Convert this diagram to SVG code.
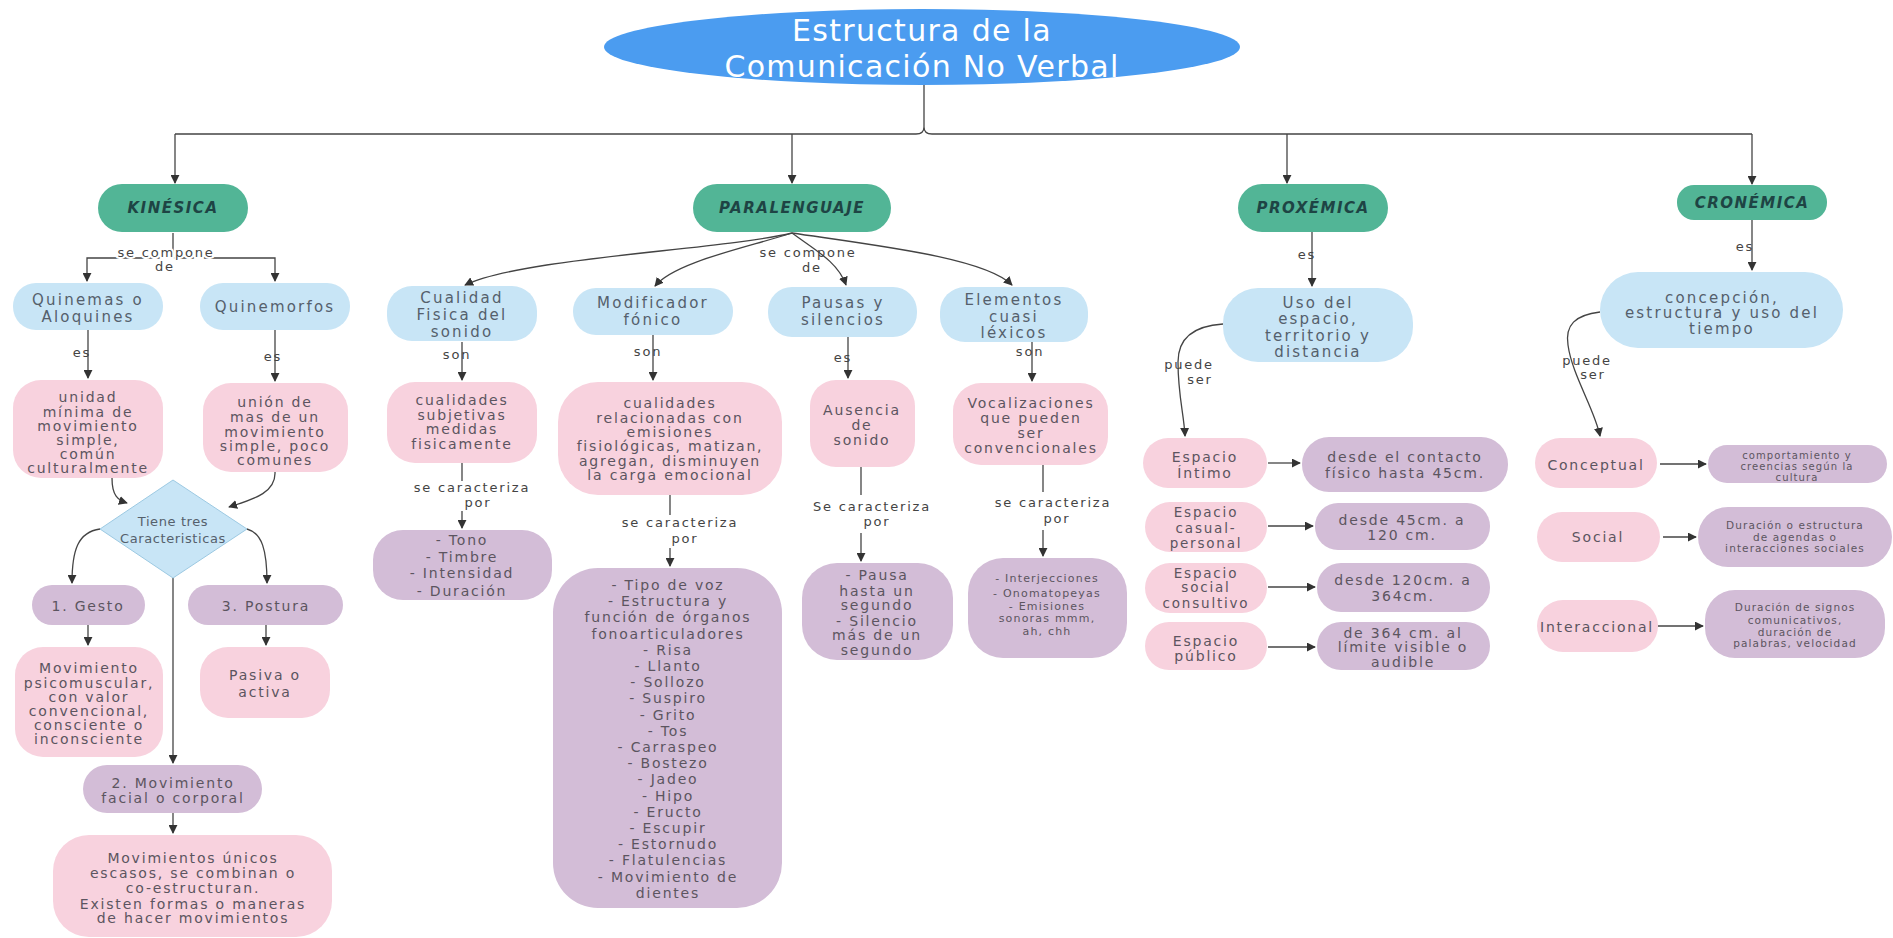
<svg xmlns="http://www.w3.org/2000/svg" width="1893" height="938" viewBox="0 0 1893 938">
<style>
.bg{fill:#ffffff}
.hdr rect{fill:#52b596}
.hdr text{font-family:"DejaVu Sans",sans-serif;font-style:italic;font-weight:bold;font-size:15px;letter-spacing:1.5px;fill:#1e4444;text-anchor:middle}
.b{fill:#c8e5f6}
.p{fill:#f8d2de}
.u{fill:#d3bdd7}
.t{font-family:"DejaVu Sans",sans-serif;font-size:14px;letter-spacing:1.8px;fill:#5c5560;text-anchor:middle}
.tb{font-family:"DejaVu Sans",sans-serif;font-size:15px;letter-spacing:2.2px;fill:#55606c;text-anchor:middle}
.s{font-size:11px;letter-spacing:1.2px}
.xs{font-size:10.5px;letter-spacing:1.1px}
.lbl{font-family:"DejaVu Sans",sans-serif;font-size:13px;letter-spacing:1.8px;fill:#444;text-anchor:middle}
.halo{stroke:#fff;stroke-width:4px;paint-order:stroke}
.c{fill:none;stroke:#444;stroke-width:1.3}
.a{marker-end:url(#arr)}
.title{font-family:"DejaVu Sans",sans-serif;font-size:30px;letter-spacing:1.3px;fill:#ffffff;text-anchor:middle}
</style>
<defs>
<marker id="arr" viewBox="0 0 10 10" refX="9" refY="5" markerWidth="9" markerHeight="9" markerUnits="userSpaceOnUse" orient="auto">
<path d="M0,0 L10,5 L0,10 z" fill="#333"/>
</marker>
</defs>
<rect class="bg" x="0" y="0" width="1893" height="938"/>

<g id="connectors">
<path class="c" d="M924 85 V127 Q924 134 932 134 H1752 M924 127 Q924 134 916 134 H175"/>
<path class="c a" d="M175 134 V183"/>
<path class="c a" d="M792 134 V183"/>
<path class="c a" d="M1287 134 V183"/>
<path class="c a" d="M1752 134 V184"/>
<!-- Kinesica -->
<path class="c a" d="M173 233 V258 H87 V281"/>
<path class="c a" d="M173 258 H275 V281"/>
<path class="c a" d="M88 330 V378"/>
<path class="c a" d="M275 330 V381"/>
<path class="c a" d="M112 478 C112 496 118 500 127 503"/>
<path class="c a" d="M275 472 C276 494 250 500 229 507"/>
<path class="c a" d="M100 529 C78 532 72 550 72 583"/>
<path class="c a" d="M247 529 C262 533 267 550 267 583"/>
<path class="c a" d="M173 578 V763"/>
<path class="c a" d="M88 625 V645"/>
<path class="c a" d="M266 625 V645"/>
<path class="c a" d="M173 813 V833"/>
<!-- Paralenguaje -->
<path class="c a" d="M792 233 C720 250 520 258 465 285"/>
<path class="c a" d="M792 233 C745 248 675 262 655 286"/>
<path class="c a" d="M792 233 C815 250 838 262 846 285"/>
<path class="c a" d="M792 233 C880 246 985 258 1012 285"/>
<path class="c a" d="M462 342 V380"/>
<path class="c" d="M462 463 V481"/>
<path class="c a" d="M462 511 V528"/>
<path class="c a" d="M653 335 V380"/>
<path class="c" d="M670 495 V515"/>
<path class="c a" d="M670 548 V566"/>
<path class="c a" d="M848 337 V378"/>
<path class="c" d="M861 467 V495"/>
<path class="c a" d="M861 533 V561"/>
<path class="c a" d="M1032 342 V381"/>
<path class="c" d="M1043 465 V492"/>
<path class="c a" d="M1043 530 V556"/>
<!-- Proxemica -->
<path class="c a" d="M1312 232 V286"/>
<path class="c a" d="M1223 324 C1192 326 1178 340 1178 362 C1178 395 1184 415 1185 436"/>
<path class="c a" d="M1268 463 H1300"/>
<path class="c a" d="M1268 526 H1313"/>
<path class="c a" d="M1268 587 H1315"/>
<path class="c a" d="M1268 647 H1315"/>
<!-- Cronemica -->
<path class="c a" d="M1752 220 V270"/>
<path class="c a" d="M1600 312 C1575 315 1565 325 1568 345 C1572 375 1595 410 1600 436"/>
<path class="c a" d="M1660 464 H1706"/>
<path class="c a" d="M1663 537 H1696"/>
<path class="c a" d="M1658 626 H1703"/>
<!-- labels -->
<text class="lbl halo" x="166" y="257">se compone</text>
<text class="lbl" x="165" y="271">de</text>
<text class="lbl" x="82" y="357">es</text>
<text class="lbl" x="273" y="361">es</text>
<text class="lbl" x="808" y="257">se compone</text>
<text class="lbl" x="812" y="272">de</text>
<text class="lbl" x="457" y="359">son</text>
<text class="lbl" x="472" y="492">se caracteriza</text>
<text class="lbl" x="478" y="507">por</text>
<text class="lbl" x="648" y="356">son</text>
<text class="lbl" x="680" y="527">se caracteriza</text>
<text class="lbl" x="685" y="543">por</text>
<text class="lbl" x="843" y="362">es</text>
<text class="lbl" x="872" y="511">Se caracteriza</text>
<text class="lbl" x="877" y="526">por</text>
<text class="lbl" x="1030" y="356">son</text>
<text class="lbl" x="1053" y="507">se caracteriza</text>
<text class="lbl" x="1057" y="523">por</text>
<text class="lbl" x="1307" y="259">es</text>
<text class="lbl" x="1189" y="369">puede</text>
<text class="lbl" x="1200" y="384">ser</text>
<text class="lbl" x="1745" y="251">es</text>
<text class="lbl" x="1587" y="365">puede</text>
<text class="lbl" x="1593" y="379">ser</text>
</g>

<g id="title">
<ellipse cx="922" cy="47" rx="318" ry="38" fill="#4b9cf0"/>
<text class="title" x="922" y="41">Estructura de la</text>
<text class="title" x="922" y="77">Comunicación No Verbal</text>
</g>

<!-- KINESICA -->
<g id="kinesica" class="hdr"><rect x="98" y="184" width="150" height="48" rx="24"/><text x="173" y="213">KINÉSICA</text></g>
<g id="quinemas"><rect class="b" x="13" y="283" width="150" height="47" rx="23"/><text class="tb"><tspan x="88" y="305">Quinemas o</tspan><tspan x="88" y="322">Aloquines</tspan></text></g>
<g id="quinemorfos"><rect class="b" x="200" y="283" width="150" height="47" rx="23"/><text class="tb" x="275" y="312">Quinemorfos</text></g>
<g id="unidad"><rect class="p" x="13" y="380" width="150" height="98" rx="28"/><text class="t"><tspan x="88" y="402">unidad</tspan><tspan x="88" y="416.5">mínima de</tspan><tspan x="88" y="431">movimiento</tspan><tspan x="88" y="445">simple,</tspan><tspan x="88" y="459">común</tspan><tspan x="88" y="473">culturalmente</tspan></text></g>
<g id="union"><rect class="p" x="203" y="383" width="145" height="89" rx="28"/><text class="t"><tspan x="275" y="407">unión de</tspan><tspan x="275" y="422">mas de un</tspan><tspan x="275" y="437">movimiento</tspan><tspan x="275" y="451">simple, poco</tspan><tspan x="275" y="465">comunes</tspan></text></g>
<g id="caracteristicas"><polygon points="173,480 247,529 173,578 100,529" fill="#c8e5f6" stroke="#9cc9e2" stroke-width="1"/><text class="tb" style="font-size:13px;letter-spacing:0.6px"><tspan x="173" y="526">Tiene tres</tspan><tspan x="173" y="543">Caracteristicas</tspan></text></g>
<g id="gesto"><rect class="u" x="32" y="585" width="113" height="40" rx="20"/><text class="t" x="88" y="611">1. Gesto</text></g>
<g id="postura"><rect class="u" x="188" y="585" width="155" height="40" rx="20"/><text class="t" x="266" y="611">3. Postura</text></g>
<g id="psicomuscular"><rect class="p" x="15" y="647" width="148" height="110" rx="28"/><text class="t"><tspan x="89" y="673">Movimiento</tspan><tspan x="89" y="688">psicomuscular,</tspan><tspan x="89" y="702">con valor</tspan><tspan x="89" y="716">convencional,</tspan><tspan x="89" y="730">consciente o</tspan><tspan x="89" y="744">inconsciente</tspan></text></g>
<g id="pasiva"><rect class="p" x="200" y="647" width="130" height="71" rx="28"/><text class="t"><tspan x="265" y="680">Pasiva o</tspan><tspan x="265" y="697">activa</tspan></text></g>
<g id="movimiento"><rect class="u" x="83" y="765" width="179" height="48" rx="24"/><text class="t"><tspan x="173" y="788">2. Movimiento</tspan><tspan x="173" y="803">facial o corporal</tspan></text></g>
<g id="unicos"><rect class="p" x="53" y="835" width="279" height="102" rx="36"/><text class="t"><tspan x="193" y="863">Movimientos únicos</tspan><tspan x="193" y="878">escasos, se combinan o</tspan><tspan x="193" y="893">co-estructuran.</tspan><tspan x="193" y="909">Existen formas o maneras</tspan><tspan x="193" y="923">de hacer movimientos</tspan></text></g>

<!-- PARALENGUAJE -->
<g id="paralenguaje" class="hdr"><rect x="693" y="184" width="198" height="48" rx="24"/><text x="792" y="213">PARALENGUAJE</text></g>
<g id="cualidad"><rect class="b" x="387" y="286" width="150" height="55" rx="25"/><text class="tb"><tspan x="462" y="303">Cualidad</tspan><tspan x="462" y="320">Fisica del</tspan><tspan x="462" y="337">sonido</tspan></text></g>
<g id="modificador"><rect class="b" x="573" y="288" width="160" height="47" rx="23"/><text class="tb"><tspan x="653" y="308">Modificador</tspan><tspan x="653" y="325">fónico</tspan></text></g>
<g id="pausas"><rect class="b" x="768" y="287" width="149" height="50" rx="24"/><text class="tb"><tspan x="843" y="308">Pausas y</tspan><tspan x="843" y="325">silencios</tspan></text></g>
<g id="elementos"><rect class="b" x="940" y="287" width="148" height="55" rx="25"/><text class="tb"><tspan x="1014" y="305">Elementos</tspan><tspan x="1014" y="322">cuasi</tspan><tspan x="1014" y="338">léxicos</tspan></text></g>
<g id="subjetivas"><rect class="p" x="387" y="382" width="150" height="81" rx="28"/><text class="t"><tspan x="462" y="405">cualidades</tspan><tspan x="462" y="420">subjetivas</tspan><tspan x="462" y="434">medidas</tspan><tspan x="462" y="449">fisicamente</tspan></text></g>
<g id="relacionadas"><rect class="p" x="558" y="382" width="224" height="113" rx="40"/><text class="t"><tspan x="670" y="408">cualidades</tspan><tspan x="670" y="423">relacionadas con</tspan><tspan x="670" y="437">emisiones</tspan><tspan x="670" y="451">fisiológicas, matizan,</tspan><tspan x="670" y="466">agregan, disminuyen</tspan><tspan x="670" y="480">la carga emocional</tspan></text></g>
<g id="ausencia"><rect class="p" x="810" y="380" width="105" height="87" rx="26"/><text class="t"><tspan x="862" y="415">Ausencia</tspan><tspan x="862" y="430">de</tspan><tspan x="862" y="445">sonido</tspan></text></g>
<g id="vocalizaciones"><rect class="p" x="953" y="383" width="155" height="82" rx="28"/><text class="t"><tspan x="1031" y="408">Vocalizaciones</tspan><tspan x="1031" y="423">que pueden</tspan><tspan x="1031" y="438">ser</tspan><tspan x="1031" y="453">convencionales</tspan></text></g>
<g id="tono"><rect class="u" x="373" y="530" width="179" height="70" rx="30"/><text class="t"><tspan x="462" y="545">- Tono</tspan><tspan x="462" y="562">- Timbre</tspan><tspan x="462" y="578">- Intensidad</tspan><tspan x="462" y="596">- Duración</tspan></text></g>
<g id="lista"><rect class="u" x="553" y="568" width="229" height="340" rx="45"/><text class="t"><tspan x="668" y="590">- Tipo de voz</tspan><tspan x="668" y="606.2">- Estructura y</tspan><tspan x="668" y="622.4">función de órganos</tspan><tspan x="668" y="638.6">fonoarticuladores</tspan><tspan x="668" y="654.8">- Risa</tspan><tspan x="668" y="671">- Llanto</tspan><tspan x="668" y="687.2">- Sollozo</tspan><tspan x="668" y="703.4">- Suspiro</tspan><tspan x="668" y="719.6">- Grito</tspan><tspan x="668" y="735.8">- Tos</tspan><tspan x="668" y="752">- Carraspeo</tspan><tspan x="668" y="768.2">- Bostezo</tspan><tspan x="668" y="784.4">- Jadeo</tspan><tspan x="668" y="800.6">- Hipo</tspan><tspan x="668" y="816.8">- Eructo</tspan><tspan x="668" y="833">- Escupir</tspan><tspan x="668" y="849.2">- Estornudo</tspan><tspan x="668" y="865.4">- Flatulencias</tspan><tspan x="668" y="881.6">- Movimiento de</tspan><tspan x="668" y="897.8">dientes</tspan></text></g>
<g id="pausa"><rect class="u" x="802" y="563" width="151" height="97" rx="35"/><text class="t"><tspan x="877" y="580">- Pausa</tspan><tspan x="877" y="596">hasta un</tspan><tspan x="877" y="610">segundo</tspan><tspan x="877" y="626">- Silencio</tspan><tspan x="877" y="640">más de un</tspan><tspan x="877" y="655">segundo</tspan></text></g>
<g id="interjecciones"><rect class="u" x="968" y="558" width="159" height="100" rx="35"/><text class="t s"><tspan x="1047" y="582">- Interjecciones</tspan><tspan x="1047" y="597">- Onomatopeyas</tspan><tspan x="1047" y="610">- Emisiones</tspan><tspan x="1047" y="622">sonoras mmm,</tspan><tspan x="1047" y="635">ah, chh</tspan></text></g>

<!-- PROXEMICA -->
<g id="proxemica" class="hdr"><rect x="1238" y="184" width="150" height="48" rx="24"/><text x="1313" y="213">PROXÉMICA</text></g>
<g id="uso"><rect class="b" x="1223" y="288" width="190" height="74" rx="35"/><text class="tb"><tspan x="1318" y="308">Uso del</tspan><tspan x="1318" y="324">espacio,</tspan><tspan x="1318" y="341">territorio y</tspan><tspan x="1318" y="357">distancia</tspan></text></g>
<g id="intimo"><rect class="p" x="1143" y="438" width="124" height="50" rx="25"/><text class="t"><tspan x="1205" y="462">Espacio</tspan><tspan x="1205" y="478">Íntimo</tspan></text></g>
<g id="d-intimo"><rect class="u" x="1302" y="437" width="206" height="55" rx="27"/><text class="t"><tspan x="1405" y="462">desde el contacto</tspan><tspan x="1405" y="478">físico hasta 45cm.</tspan></text></g>
<g id="casual"><rect class="p" x="1145" y="502" width="122" height="50" rx="25"/><text class="t" style="font-size:13.5px"><tspan x="1206" y="517">Espacio</tspan><tspan x="1206" y="533">casual-</tspan><tspan x="1206" y="548">personal</tspan></text></g>
<g id="d-casual"><rect class="u" x="1315" y="503" width="175" height="47" rx="23"/><text class="t"><tspan x="1402" y="525">desde 45cm. a</tspan><tspan x="1402" y="540">120 cm.</tspan></text></g>
<g id="social-p"><rect class="p" x="1145" y="563" width="122" height="50" rx="25"/><text class="t" style="font-size:13.5px"><tspan x="1206" y="578">Espacio</tspan><tspan x="1206" y="592">social</tspan><tspan x="1206" y="608">consultivo</tspan></text></g>
<g id="d-social"><rect class="u" x="1317" y="563" width="173" height="49" rx="24"/><text class="t"><tspan x="1403" y="585">desde 120cm. a</tspan><tspan x="1403" y="601">364cm.</tspan></text></g>
<g id="publico"><rect class="p" x="1145" y="622" width="122" height="48" rx="24"/><text class="t"><tspan x="1206" y="646">Espacio</tspan><tspan x="1206" y="661">público</tspan></text></g>
<g id="d-publico"><rect class="u" x="1317" y="622" width="173" height="48" rx="24"/><text class="t"><tspan x="1403" y="638">de 364 cm. al</tspan><tspan x="1403" y="652">límite visible o</tspan><tspan x="1403" y="667">audible</tspan></text></g>

<!-- CRONEMICA -->
<g id="cronemica" class="hdr"><rect x="1677" y="185" width="150" height="35" rx="17"/><text x="1752" y="208">CRONÉMICA</text></g>
<g id="concepcion"><rect class="b" x="1600" y="272" width="243" height="76" rx="38"/><text class="tb"><tspan x="1722" y="303">concepción,</tspan><tspan x="1722" y="318">estructura y uso del</tspan><tspan x="1722" y="334">tiempo</tspan></text></g>
<g id="conceptual"><rect class="p" x="1535" y="438" width="122" height="50" rx="25"/><text class="t" x="1596" y="470">Conceptual</text></g>
<g id="d-conceptual"><rect class="u" x="1708" y="445" width="179" height="38" rx="19"/><text class="t xs" style="font-size:10px"><tspan x="1797" y="459">comportamiento y</tspan><tspan x="1797" y="470">creencias según la</tspan><tspan x="1797" y="481">cultura</tspan></text></g>
<g id="social-c"><rect class="p" x="1537" y="512" width="123" height="50" rx="25"/><text class="t" x="1598" y="542">Social</text></g>
<g id="d-social-c"><rect class="u" x="1698" y="507" width="194" height="60" rx="30"/><text class="t xs"><tspan x="1795" y="529">Duración o estructura</tspan><tspan x="1795" y="541">de agendas o</tspan><tspan x="1795" y="552">interacciones sociales</tspan></text></g>
<g id="interaccional"><rect class="p" x="1537" y="600" width="121" height="52" rx="26"/><text class="t" x="1597" y="632">Interaccional</text></g>
<g id="d-interaccional"><rect class="u" x="1705" y="590" width="180" height="68" rx="30"/><text class="t xs"><tspan x="1795" y="611">Duración de signos</tspan><tspan x="1795" y="624">comunicativos,</tspan><tspan x="1795" y="636">duración de</tspan><tspan x="1795" y="647">palabras, velocidad</tspan></text></g>
</svg>
